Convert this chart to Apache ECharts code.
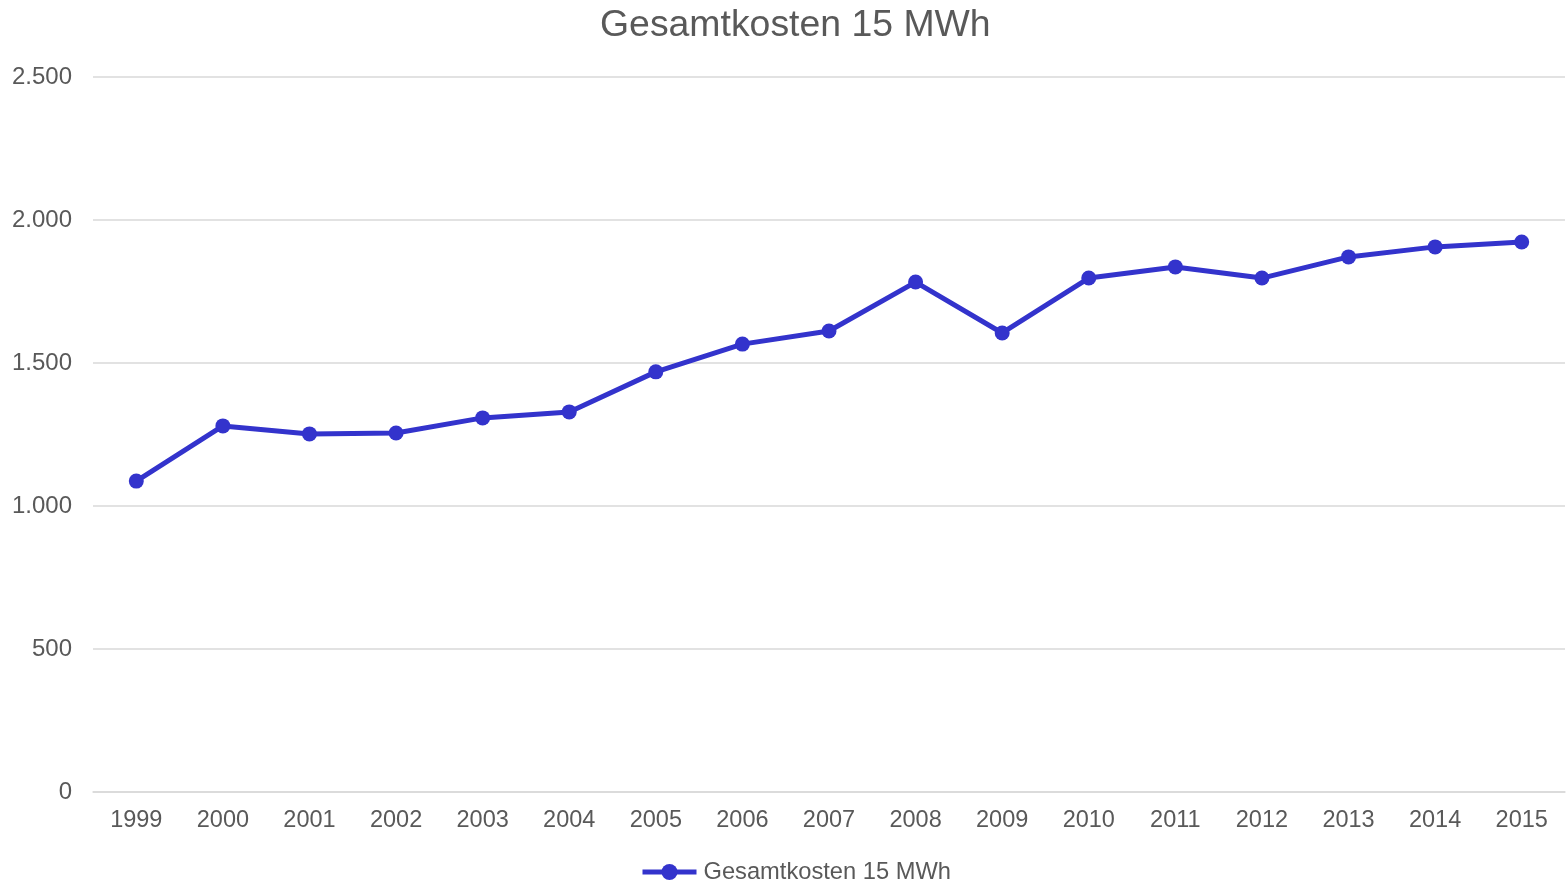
<!DOCTYPE html>
<html>
<head>
<meta charset="utf-8">
<script src="https://cdn.jsdelivr.net/npm/echarts@6/dist/echarts.min.js"></script>
<style>html,body{margin:0;padding:0;background:#fff}#c{width:1567px;height:885px}</style>
</head>
<body>
<div id="c"></div>
<script>
const categories = ['1999','2000','2001','2002','2003','2004','2005','2006','2007','2008','2009','2010','2011','2012','2013','2014','2015'];
const values = [1087, 1280, 1252, 1255, 1308, 1329, 1469, 1566, 1612, 1783, 1605, 1797, 1836, 1797, 1871, 1906, 1923];
const seriesName = 'Gesamtkosten 15 MWh';
const titleText = 'Gesamtkosten 15 MWh';

const fmt = v => String(v).replace(/\B(?=(\d{3})+(?!\d))/g, '.');
const chart = echarts.init(document.getElementById('c'));
chart.setOption({
  animation: false,
  textStyle: {fontFamily: 'Liberation Sans, Arial, sans-serif'},
  title: {text: titleText, left: 595, top: 2, textStyle: {fontSize: 37.4, fontWeight: 'normal', color: '#595959', fontFamily: 'Liberation Sans, Arial, sans-serif'}},
  legend: {top: 855, left: 635, itemWidth: 54, itemHeight: 20, itemGap: 10,
    lineStyle: {width: 5},
    textStyle: {fontSize: 23.7, color: '#595959', padding: [0,0,0,2]},
    data: [{name: seriesName}]},
  grid: {left: 93, right: 2, top: 77, bottom: 93, containLabel: false},
  xAxis: {type: 'category', data: categories, boundaryGap: true,
    axisLine: {show: true, lineStyle: {color: '#d9d9d9', width: 1.5}},
    axisTick: {show: false},
    axisLabel: {color: '#595959', fontSize: 23.5, margin: 17}},
  yAxis: {type: 'value', min: 0, max: 2500, interval: 500,
    axisLine: {show: false}, axisTick: {show: false},
    splitLine: {lineStyle: {color: '#d9d9d9', width: 1.5}},
    axisLabel: {color: '#595959', fontSize: 24, margin: 21, formatter: fmt}},
  series: [{name: seriesName, type: 'line', data: values,
    symbol: 'circle', symbolSize: 15,
    lineStyle: {color: '#3333cc', width: 5},
    itemStyle: {color: '#3333cc'}}]
});
</script>
</body>
</html>
